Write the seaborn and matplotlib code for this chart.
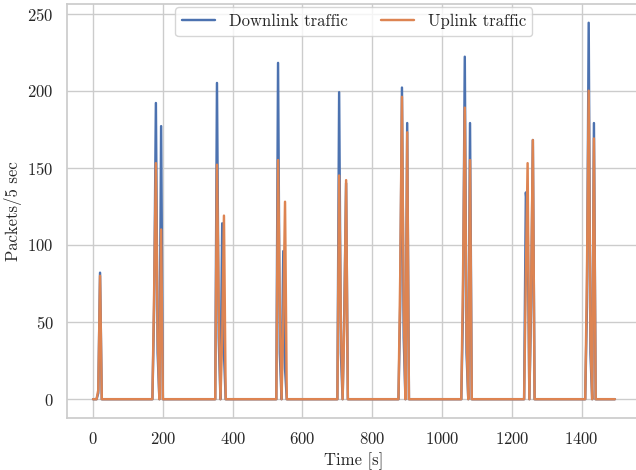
import matplotlib
matplotlib.use("Agg")
import matplotlib.pyplot as plt
import seaborn as sns
import pandas as pd
import numpy as np

# sample grid: one reading every 5 seconds
time_s = np.arange(0, 1500, 5)

# non-zero readings (all other samples are idle = 0)
burst_times = [15, 20,
               175, 180, 185, 195,
               355, 360, 370, 375,
               530, 535, 545, 550,
               705, 710, 720, 725,
               880, 885, 890, 900,
               1060, 1065, 1070, 1080,
               1240, 1245, 1255, 1260,
               1415, 1420, 1425, 1435]
downlink_vals = [4, 82,
                 60, 192, 30, 177,
                 205, 40, 114, 30,
                 218, 30, 96, 20,
                 199, 30, 60, 140,
                 60, 202, 40, 179,
                 60, 222, 30, 179,
                 134, 120, 60, 168,
                 60, 244, 30, 179]
uplink_vals = [6, 80,
               70, 153, 40, 110,
               152, 60, 40, 119,
               155, 60, 50, 128,
               145, 50, 50, 142,
               80, 196, 60, 173,
               80, 189, 40, 155,
               80, 153, 70, 168,
               80, 200, 40, 169]

down = pd.Series(0.0, index=time_s)
up = pd.Series(0.0, index=time_s)
down.loc[burst_times] = downlink_vals
up.loc[burst_times] = uplink_vals
df = pd.DataFrame({"time": time_s, "down": down.values, "up": up.values})

sns.set_theme(style="whitegrid")
plt.rcParams["font.family"] = ["cmr10", "DejaVu Serif"]
plt.rcParams["axes.formatter.use_mathtext"] = True
plt.rcParams["mathtext.fontset"] = "cm"

fig = plt.figure(figsize=(6.36, 4.70), dpi=100)
ax = fig.add_axes([0.1053, 0.1106, 0.9025, 0.881])

sns.lineplot(data=df, x="time", y="down", ax=ax, label="Downlink traffic", color="#4C72B0", linewidth=1.75)
sns.lineplot(data=df, x="time", y="up", ax=ax, label="Uplink traffic", color="#DD8452", linewidth=1.75)

ax.set_xlabel("Time [s]", fontsize=12)
ax.set_ylabel("Packets/5 sec", fontsize=12)
ax.tick_params(labelsize=12)
ax.set_xticks([0, 200, 400, 600, 800, 1000, 1200, 1400])
ax.legend(loc="upper center", ncol=2, fontsize=12, borderaxespad=0.2)

fig.savefig("out.png", dpi=100)
